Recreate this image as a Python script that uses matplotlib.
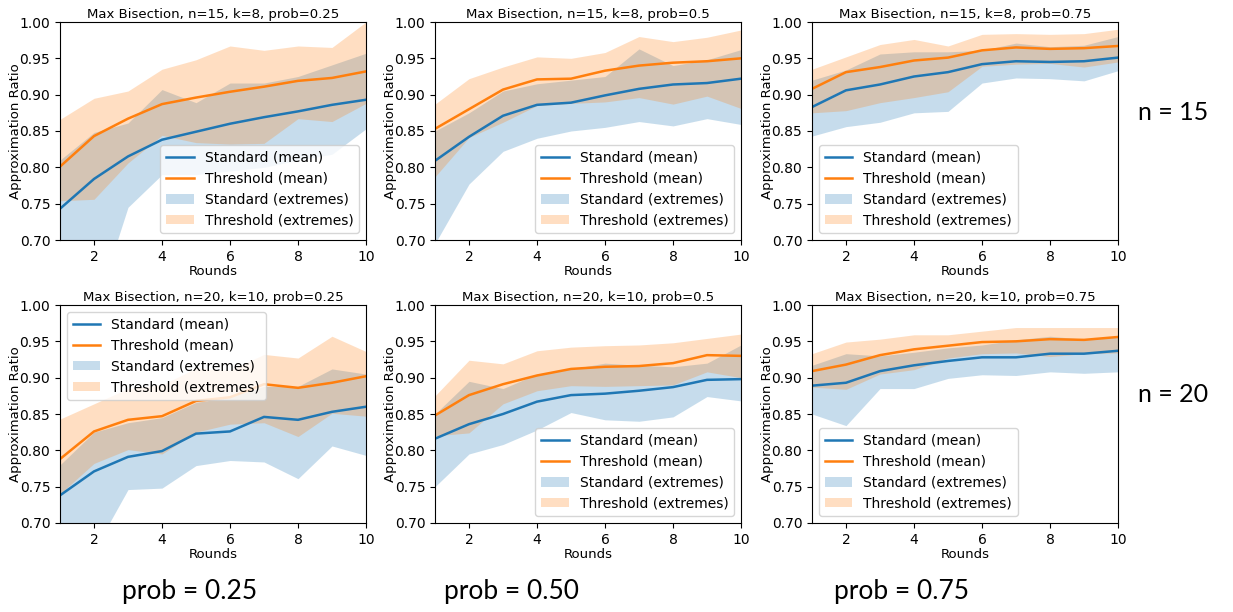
import numpy as np
import matplotlib.pyplot as plt

rounds = np.arange(1, 11)

# n=15, k=8
std_mean_15_25 = [0.743, 0.784, 0.815, 0.838, 0.849, 0.860, 0.869, 0.877, 0.886, 0.893]
thr_mean_15_25 = [0.801, 0.843, 0.867, 0.887, 0.896, 0.904, 0.911, 0.919, 0.923, 0.932]
std_lo_15_25 = [0.65, 0.60, 0.745, 0.79, 0.79, 0.795, 0.80, 0.81, 0.818, 0.853]
std_hi_15_25 = [0.810, 0.848, 0.861, 0.907, 0.889, 0.916, 0.916, 0.925, 0.941, 0.957]
thr_lo_15_25 = [0.754, 0.756, 0.806, 0.844, 0.834, 0.832, 0.833, 0.867, 0.863, 0.888]
thr_hi_15_25 = [0.866, 0.895, 0.905, 0.935, 0.948, 0.967, 0.961, 0.967, 0.965, 1.00]

std_mean_15_50 = [0.809, 0.842, 0.871, 0.886, 0.889, 0.899, 0.908, 0.914, 0.916, 0.922]
thr_mean_15_50 = [0.853, 0.880, 0.907, 0.921, 0.922, 0.933, 0.940, 0.944, 0.946, 0.950]
std_lo_15_50 = [0.695, 0.777, 0.822, 0.840, 0.850, 0.855, 0.863, 0.857, 0.867, 0.859]
std_hi_15_50 = [0.850, 0.875, 0.905, 0.915, 0.920, 0.925, 0.963, 0.940, 0.948, 0.962]
thr_lo_15_50 = [0.787, 0.841, 0.862, 0.885, 0.888, 0.890, 0.896, 0.887, 0.898, 0.881]
thr_hi_15_50 = [0.887, 0.922, 0.938, 0.952, 0.950, 0.958, 0.980, 0.973, 0.979, 0.989]

std_mean_15_75 = [0.883, 0.906, 0.914, 0.925, 0.931, 0.942, 0.946, 0.945, 0.946, 0.951]
thr_mean_15_75 = [0.908, 0.931, 0.938, 0.947, 0.951, 0.961, 0.965, 0.963, 0.964, 0.967]
std_lo_15_75 = [0.843, 0.856, 0.862, 0.875, 0.877, 0.916, 0.923, 0.922, 0.919, 0.933]
std_hi_15_75 = [0.920, 0.934, 0.956, 0.959, 0.959, 0.961, 0.971, 0.966, 0.968, 0.980]
thr_lo_15_75 = [0.875, 0.878, 0.889, 0.896, 0.904, 0.939, 0.942, 0.943, 0.938, 0.945]
thr_hi_15_75 = [0.935, 0.952, 0.969, 0.976, 0.967, 0.983, 0.984, 0.983, 0.984, 0.990]

# n=20, k=10
std_mean_20_25 = [0.738, 0.771, 0.791, 0.799, 0.823, 0.826, 0.846, 0.842, 0.853, 0.860]
thr_mean_20_25 = [0.788, 0.826, 0.842, 0.847, 0.868, 0.873, 0.891, 0.886, 0.893, 0.902]
std_lo_20_25 = [0.68, 0.662, 0.746, 0.748, 0.779, 0.786, 0.784, 0.761, 0.806, 0.793]
std_hi_20_25 = [0.780, 0.825, 0.838, 0.845, 0.866, 0.873, 0.888, 0.888, 0.912, 0.905]
thr_lo_20_25 = [0.740, 0.782, 0.801, 0.795, 0.825, 0.836, 0.838, 0.819, 0.851, 0.847]
thr_hi_20_25 = [0.843, 0.864, 0.885, 0.890, 0.913, 0.910, 0.932, 0.927, 0.957, 0.936]

std_mean_20_50 = [0.816, 0.836, 0.850, 0.867, 0.876, 0.878, 0.882, 0.887, 0.897, 0.898]
thr_mean_20_50 = [0.848, 0.876, 0.891, 0.903, 0.912, 0.915, 0.916, 0.920, 0.931, 0.930]
std_lo_20_50 = [0.750, 0.795, 0.808, 0.828, 0.852, 0.842, 0.840, 0.846, 0.874, 0.868]
std_hi_20_50 = [0.850, 0.895, 0.885, 0.905, 0.912, 0.920, 0.917, 0.915, 0.920, 0.945]
thr_lo_20_50 = [0.820, 0.824, 0.864, 0.882, 0.889, 0.888, 0.889, 0.890, 0.908, 0.900]
thr_hi_20_50 = [0.875, 0.924, 0.919, 0.937, 0.942, 0.944, 0.945, 0.948, 0.954, 0.960]

std_mean_20_75 = [0.889, 0.893, 0.909, 0.917, 0.923, 0.928, 0.928, 0.933, 0.933, 0.937]
thr_mean_20_75 = [0.909, 0.918, 0.931, 0.939, 0.944, 0.949, 0.950, 0.953, 0.952, 0.956]
std_lo_20_75 = [0.850, 0.834, 0.885, 0.885, 0.899, 0.904, 0.903, 0.908, 0.906, 0.908]
std_hi_20_75 = [0.917, 0.933, 0.930, 0.935, 0.941, 0.945, 0.952, 0.957, 0.953, 0.956]
thr_lo_20_75 = [0.887, 0.884, 0.905, 0.911, 0.927, 0.933, 0.934, 0.929, 0.933, 0.934]
thr_hi_20_75 = [0.933, 0.949, 0.953, 0.959, 0.959, 0.964, 0.969, 0.969, 0.969, 0.969]

panels = [
    ("Max Bisection, n=15, k=8, prob=0.25", std_mean_15_25, thr_mean_15_25, std_lo_15_25, std_hi_15_25, thr_lo_15_25, thr_hi_15_25, "lower right"),
    ("Max Bisection, n=15, k=8, prob=0.5", std_mean_15_50, thr_mean_15_50, std_lo_15_50, std_hi_15_50, thr_lo_15_50, thr_hi_15_50, "lower right"),
    ("Max Bisection, n=15, k=8, prob=0.75", std_mean_15_75, thr_mean_15_75, std_lo_15_75, std_hi_15_75, thr_lo_15_75, thr_hi_15_75, "lower left"),
    ("Max Bisection, n=20, k=10, prob=0.25", std_mean_20_25, thr_mean_20_25, std_lo_20_25, std_hi_20_25, thr_lo_20_25, thr_hi_20_25, "upper left"),
    ("Max Bisection, n=20, k=10, prob=0.5", std_mean_20_50, thr_mean_20_50, std_lo_20_50, std_hi_20_50, thr_lo_20_50, thr_hi_20_50, "lower right"),
    ("Max Bisection, n=20, k=10, prob=0.75", std_mean_20_75, thr_mean_20_75, std_lo_20_75, std_hi_20_75, thr_lo_20_75, thr_hi_20_75, "lower left"),
]

row_labels = ["n = 15", "n = 20"]
col_labels = ["prob = 0.25", "prob = 0.50", "prob = 0.75"]

W, H = 1233, 612
fig = plt.figure(figsize=(W / 100, H / 100), dpi=100)

lefts = [60, 435, 812]
tops = [22, 305]
aw, ah = 306, 218

for i, (title, sm, tm, sl, sh, tl, th, loc) in enumerate(panels):
    r, c = divmod(i, 3)
    ax = fig.add_axes([lefts[c] / W, 1 - (tops[r] + ah) / H, aw / W, ah / H])
    ax.plot(rounds, sm, color='#1f77b4', lw=1.8, label='Standard (mean)')
    ax.plot(rounds, tm, color='#ff7f0e', lw=1.8, label='Threshold (mean)')
    ax.fill_between(rounds, sl, sh, color='#1f77b4', alpha=0.25, lw=0, label='Standard (extremes)')
    ax.fill_between(rounds, tl, th, color='#ff7f0e', alpha=0.25, lw=0, label='Threshold (extremes)')
    ax.set_xlim(1, 10)
    ax.set_ylim(0.7, 1.0)
    ax.set_xticks([2, 4, 6, 8, 10])
    ax.set_yticks(np.arange(0.70, 1.001, 0.05))
    ax.set_title(title, fontsize=9.5, pad=3)
    ax.set_xlabel('Rounds', fontsize=9.5, labelpad=1)
    ax.set_ylabel('Approximation Ratio', fontsize=9.5)
    ax.yaxis.set_label_coords(-0.125, 0.5)
    ax.tick_params(labelsize=10)
    ax.legend(loc=loc, fontsize=10)

for r, lab in enumerate(row_labels):
    fig.text(1173 / W, 1 - [113, 394][r] / H, lab, fontsize=18, family='Lato', ha='center', va='center')
for c, lab in enumerate(col_labels):
    fig.text([190, 512, 902][c] / W, 1 - 592 / H, lab, fontsize=19, family='Lato', ha='center', va='center')

fig.savefig('out.png', dpi=100)
